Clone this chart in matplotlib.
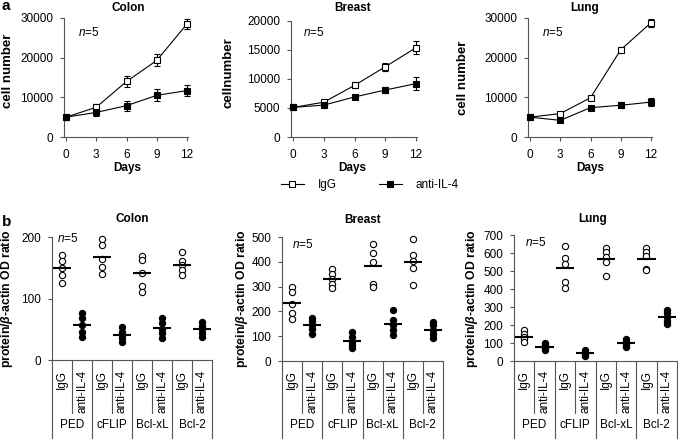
import numpy as np
import matplotlib.pyplot as plt
from matplotlib.lines import Line2D

plt.rcParams['font.family'] = ['Liberation Sans', 'DejaVu Sans']
plt.rcParams['font.size'] = 8.5
plt.rcParams['mathtext.fontset'] = 'custom'
plt.rcParams['mathtext.rm'] = 'Liberation Sans'
plt.rcParams['mathtext.it'] = 'Liberation Sans:italic'
plt.rcParams['mathtext.bf'] = 'Liberation Sans:bold'
plt.rcParams['mathtext.bfit'] = 'Liberation Sans:italic:bold'

W, H = 678, 440

# ---- panel a data (cell number vs days)
days = [0, 3, 6, 9, 12]

colon_igg = [5000, 7500, 14000, 19300, 28500]
colon_igg_err = [600, 900, 1300, 1500, 1300]
colon_anti = [5000, 6200, 7900, 10500, 11700]
colon_anti_err = [500, 800, 1300, 1500, 1300]

breast_igg = [5100, 6000, 8900, 12100, 15400]
breast_igg_err = [200, 300, 400, 700, 1100]
breast_anti = [5100, 5500, 6900, 8100, 9200]
breast_anti_err = [200, 300, 400, 500, 1100]

lung_igg = [5000, 5900, 9900, 22000, 28800]
lung_igg_err = [300, 400, 500, 800, 1000]
lung_anti = [5000, 4200, 7400, 8000, 8800]
lung_anti_err = [300, 300, 500, 800, 1000]

# ---- panel b data (protein / beta-actin OD ratio, n=5)
proteins = ['PED', 'cFLIP', 'Bcl-xL', 'Bcl-2']
treatments = ['IgG', 'anti-IL-4']

colon_igg_pts = [[171, 161, 149, 138, 126], [196, 187, 164, 152, 140],
                 [169, 162, 142, 121, 110], [176, 161, 154, 146, 138]]
colon_anti_pts = [[77, 68, 57, 46, 38], [54, 45, 40, 35, 30],
                  [68, 60, 50, 44, 36], [62, 56, 50, 44, 38]]

breast_igg_pts = [[300, 280, 230, 192, 168], [370, 350, 330, 310, 294],
                  [473, 435, 399, 310, 298], [493, 426, 402, 377, 307]]
breast_anti_pts = [[175, 160, 145, 130, 110], [116, 98, 78, 65, 51],
                   [206, 166, 146, 125, 105], [159, 146, 125, 108, 92]]

lung_igg_pts = [[170, 150, 135, 120, 105], [639, 570, 537, 441, 404],
                [630, 607, 580, 552, 474], [630, 607, 585, 510, 505]]
lung_anti_pts = [[100, 90, 80, 70, 60], [60, 50, 42, 35, 28],
                 [120, 108, 98, 88, 80], [285, 265, 245, 225, 205]]


def rect(l, t, r, b):
    return [l / W, 1 - b / H, (r - l) / W, (b - t) / H]


def ftext(x, y, s, **kw):
    fig.text(x / W, 1 - y / H, s, **kw)


def style_axes(ax):
    for s in ['top', 'right']:
        ax.spines[s].set_visible(False)
    for s in ['left', 'bottom']:
        ax.spines[s].set_color('#555555')
        ax.spines[s].set_linewidth(0.8)
    ax.tick_params(direction='out', length=2.7, width=0.8, color='#555555', pad=5)


fig = plt.figure(figsize=(W / 100, H / 100), dpi=100)


def growth_panel(box, igg, igg_err, anti, anti_err, ymax, ystep):
    ax = fig.add_axes(rect(*box))
    style_axes(ax)
    for y, e, face in [(igg, igg_err, 'white'), (anti, anti_err, 'black')]:
        ax.errorbar(days, y, yerr=e, fmt='none', ecolor='k', elinewidth=0.8,
                    capsize=2.5, capthick=0.8, clip_on=False, zorder=2)
        ax.plot(days, y, '-s', color='k', lw=0.8, mfc=face, mec='k', ms=5,
                mew=0.8, clip_on=False, zorder=3)
    ax.set_xlim(-0.2, 12.1)
    ax.set_ylim(0, ymax)
    ax.set_xticks(days)
    ax.set_yticks(np.arange(0, ymax + 1, ystep))
    ax.tick_params(axis='x', pad=6)
    return ax


growth_panel((64, 18, 188, 137), colon_igg, colon_igg_err, colon_anti, colon_anti_err, 30000, 10000)
growth_panel((291, 21, 417, 137), breast_igg, breast_igg_err, breast_anti, breast_anti_err, 20000, 5000)
growth_panel((528, 18, 652, 137), lung_igg, lung_igg_err, lung_anti, lung_anti_err, 30000, 10000)

# titles / labels panel a
ftext(128, 8, 'Colon', ha='center', va='center', fontweight='bold')
ftext(353, 8, 'Breast', ha='center', va='center', fontweight='bold')
ftext(585, 8, 'Lung', ha='center', va='center', fontweight='bold')
for x in [127, 352, 590]:
    ftext(x, 168, 'Days', ha='center', va='center', fontweight='bold')
ftext(8, 71, 'cell number', ha='center', va='center', rotation=90, fontweight='bold', fontsize=9.5)
ftext(229, 73, 'cellnumber', ha='center', va='center', rotation=90, fontweight='bold', fontsize=9.5)
ftext(463, 78, 'cell number', ha='center', va='center', rotation=90, fontweight='bold', fontsize=9.5)
for x, y in [(78, 33), (303, 32), (542, 32)]:
    ftext(x, y, r'$n$=5', ha='left', va='center')
ftext(2, 6, 'a', ha='left', va='center', fontweight='bold', fontsize=11)

# legend
handles = [Line2D([], [], color='k', lw=0.8, marker='s', ms=4, mfc='white', mec='k', mew=0.8),
           Line2D([], [], color='k', lw=0.8, marker='s', ms=4, mfc='black', mec='k', mew=0.8)]
fig.legend(handles, treatments, loc='center', bbox_to_anchor=(370 / W, 1 - 185 / H),
           ncol=2, frameon=False, handlelength=1.9, handletextpad=1.2,
           columnspacing=3.6, borderpad=0, borderaxespad=0)


def od_panel(box, igg_pts, anti_pts, ymax):
    l, t, r, b = box
    hpx = b - t
    ax = fig.add_axes(rect(*box))
    style_axes(ax)
    ax.spines['bottom'].set_bounds(-0.5, 7.5)
    cols = []
    for k in range(len(proteins)):
        cols.append((igg_pts[k], 'white'))
        cols.append((anti_pts[k], 'black'))
    for i, (vals, face) in enumerate(cols):
        ax.plot([i] * len(vals), vals, 'o', mfc=face, mec='k', ms=4.5, mew=0.8,
                clip_on=False, zorder=3)
        ax.hlines(np.mean(vals), i - 0.45, i + 0.45, color='k', lw=1.5, zorder=4)
    ax.set_xlim(-0.5, 7.5)
    ax.set_ylim(0, ymax)
    ax.set_yticks(np.arange(0, ymax + 1, 100))
    ax.set_xticks([])
    tr = ax.get_xaxis_transform()
    for k in range(9):
        xb = k - 0.5
        depth = 438 if k % 2 == 0 else 413
        ax.plot([xb, xb], [0, -(depth - b) / hpx], color='#555555', lw=0.8,
                transform=tr, clip_on=False)
    for i in range(8):
        ax.text(i, -(370 - b) / hpx, treatments[i % 2], rotation=90, ha='center',
                va='top', transform=tr)
    for k, name in enumerate(proteins):
        ax.text(2 * k + 0.5, -(425 - b) / hpx, name, ha='center', va='center',
                transform=tr)
    return ax


od_panel((52, 237, 212, 360), colon_igg_pts, colon_anti_pts, 200)
od_panel((282, 237, 443, 361), breast_igg_pts, breast_anti_pts, 500)
od_panel((514, 235, 677, 361), lung_igg_pts, lung_anti_pts, 700)

ylab = r'protein/$\mathbfit{\beta}$-actin OD ratio'
ftext(7, 299, ylab, ha='center', va='center', rotation=90, fontweight='bold', fontsize=8.8)
ftext(242, 299, ylab, ha='center', va='center', rotation=90, fontweight='bold', fontsize=8.8)
ftext(472, 299, ylab, ha='center', va='center', rotation=90, fontweight='bold', fontsize=8.8)
ftext(132, 219, 'Colon', ha='center', va='center', fontweight='bold')
ftext(363, 220, 'Breast', ha='center', va='center', fontweight='bold')
ftext(593, 219, 'Lung', ha='center', va='center', fontweight='bold')
for x, y in [(57, 238), (292, 244), (525, 242)]:
    ftext(x, y, r'$n$=5', ha='left', va='center')
ftext(2, 222, 'b', ha='left', va='center', fontweight='bold', fontsize=11)

fig.savefig('out.png', dpi=100)
